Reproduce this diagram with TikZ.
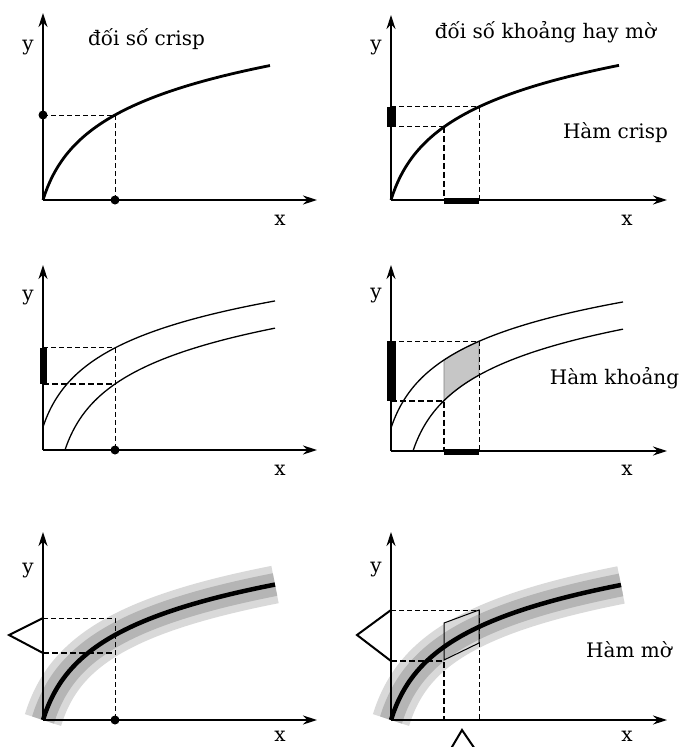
\documentclass[tikz,border=0pt]{standalone}
\usepackage{fontspec}
\setmainfont{DejaVu Serif}
\usetikzlibrary{arrows.meta}
\tikzset{
 axisL/.style={line width=2pt, -{Stealth[length=14pt,width=9pt]}},
 axisR/.style={line width=1.2pt, -{Stealth[length=14pt,width=9pt]}},
 thinDash/.style={line width=1pt, dash pattern=on 5pt off 3pt},
 thickDash/.style={line width=2pt, dash pattern=on 6pt off 3pt},
 lbl/.style={font=\fontsize{20}{24}\selectfont, anchor=base, inner sep=0pt},
 crispcurve/.style={line width=2.8pt, line join=round},
 intcurve/.style={line width=1.3pt, line join=round},
 bandL/.style={line width=38pt, draw=gray!30, line join=round},
 bandD/.style={line width=23pt, draw=gray!58, line join=round},
 fuzzycurve/.style={line width=4.5pt, line join=round},
 memb/.style={line width=2pt, line join=miter},
}
\begin{document}
\begin{tikzpicture}[x=1pt,y=1pt]
\clip (0,0) rectangle (688,-747);
\fill[white] (0,0) rectangle (688,-747);

% ---------- Panel 1 ----------
\begin{scope}[shift={(43,-200)}]
 \draw[axisL] (0,0) -- (0,187);
 \draw[axisL] (0,0) -- (274,0);
 \draw[crispcurve] plot[domain=0:227,samples=100,smooth] (\x,{48.35*ln(1+\x/15)});
 \draw[thinDash] (0,85) -- (72,85) -- (72,0);
 \fill (0,85) circle (4.5pt);
 \fill (72,0) circle (4.5pt);
\end{scope}

% ---------- Panel 2 ----------
\begin{scope}[shift={(391,-200)}]
 \draw[axisR] (0,0) -- (0,185);
 \draw[axisR] (0,0) -- (276,0);
 \draw[crispcurve] plot[domain=0:228,samples=100,smooth] (\x,{48.35*ln(1+\x/15)});
 \draw[thinDash] (0,93.15) -- (88,93.15) -- (88,0);
 \draw[thinDash] (0,73.08) -- (53,73.08);
 \draw[thickDash] (53,73.08) -- (53,0);
 \fill (-4,73.08) rectangle (5,93.15);
 \fill (53,-4) rectangle (88,2);
\end{scope}

% ---------- Panel 3 ----------
\begin{scope}[shift={(43,-450)}]
 \draw[axisL] (0,0) -- (0,185);
 \draw[axisL] (0,0) -- (274,0);
 \draw[intcurve] plot[domain=0:232,samples=100,smooth] (\x,{23+45*ln(1+\x/15)});
 \draw[intcurve] plot[domain=22:232,samples=100,smooth] (\x,{45*ln(1+(\x-22)/15)});
 \draw[thinDash] (0,102.1) -- (72,102.1) -- (72,0);
 \draw[thickDash] (0,66) -- (72,66);
 \fill (-3,66) rectangle (4,102.1);
 \fill (72,0) circle (4.5pt);
\end{scope}

% ---------- Panel 4 ----------
\begin{scope}[shift={(391,-451)}]
 \fill[gray!45, draw=gray, line width=0.8pt] plot[domain=53:88,samples=20] (\x,{23+45*ln(1+\x/15)})
   -- plot[domain=88:53,samples=20] (\x,{45*ln(1+(\x-22)/15)}) -- cycle;
 \draw[axisR] (0,0) -- (0,186);
 \draw[axisR] (0,0) -- (276,0);
 \draw[intcurve] plot[domain=0:232,samples=100,smooth] (\x,{23+45*ln(1+\x/15)});
 \draw[intcurve] plot[domain=22:232,samples=100,smooth] (\x,{45*ln(1+(\x-22)/15)});
 \draw[thinDash] (0,109.7) -- (88,109.7) -- (88,0);
 \draw[thickDash] (0,50.4) -- (53,50.4) -- (53,0);
 \fill (-4,50.4) rectangle (5,109.7);
 \fill (53,-4) rectangle (88,2);
\end{scope}

% ---------- Panel 5 ----------
\begin{scope}[shift={(43,-720)}]
 \draw[bandL] plot[domain=0:232,samples=100,smooth] (\x,{48.35*ln(1+\x/15)});
 \draw[bandD] plot[domain=0:232,samples=100,smooth] (\x,{48.35*ln(1+\x/15)});
 \draw[axisL] (0,0) -- (0,188);
 \draw[axisL] (0,0) -- (274,0);
 \draw[thinDash] (0,102) -- (72,102) -- (72,0);
 \draw[thickDash] (0,67) -- (72,67);
 \draw[fuzzycurve] plot[domain=0:232,samples=100,smooth] (\x,{48.35*ln(1+\x/15)});
 \draw[memb] (0,102) -- (-34,85) -- (0,67);
 \fill (72,0) circle (4.5pt);
\end{scope}

% ---------- Panel 6 ----------
\begin{scope}[shift={(391,-720)}]
 \draw[bandL] plot[domain=0:230,samples=100,smooth] (\x,{48.35*ln(1+\x/15)});
 \draw[bandD] plot[domain=0:230,samples=100,smooth] (\x,{48.35*ln(1+\x/15)});
 \draw[axisR] (0,0) -- (0,188);
 \draw[axisR] (0,0) -- (276,0);
 \draw[thinDash] (0,110) -- (88,110) -- (88,0);
 \draw[thickDash] (0,59) -- (53,59) -- (53,0);
 \draw[fuzzycurve] plot[domain=0:230,samples=100,smooth] (\x,{48.35*ln(1+\x/15)});
 \draw[line width=1pt] (53,97) -- (88,110) -- (88,77) -- (53,60) -- cycle;
 \draw[memb] (0,110) -- (-34,85) -- (0,59);
 \draw[memb] (58,-32) -- (71,-10) -- (86,-32);
\end{scope}

% ---------- Texts ----------
\node[lbl] (t1) at (146.5,-45) {đối số crisp};
\node[lbl] (t2) at (545.5,-38) {đối số khoảng hay mờ};
\node[lbl] (t3) at (615.5,-138) {Hàm crisp};
\node[lbl] (t4) at (614.5,-384) {Hàm khoảng};
\node[lbl] (t5) at (629,-657) {Hàm mờ};
\node[lbl] (y1) at (28,-50) {y};
\node[lbl] (y2) at (376,-50) {y};
\node[lbl] (y3) at (28,-300) {y};
\node[lbl] (y4) at (376,-298) {y};
\node[lbl] (y5) at (28,-573) {y};
\node[lbl] (y6) at (376,-572) {y};
\node[lbl] (x1) at (280,-225) {x};
\node[lbl] (x2) at (627,-225) {x};
\node[lbl] (x3) at (280,-475) {x};
\node[lbl] (x4) at (627,-475) {x};
\node[lbl] (x5) at (280,-741) {x};
\node[lbl] (x6) at (627,-741) {x};
\end{tikzpicture}
\end{document}
